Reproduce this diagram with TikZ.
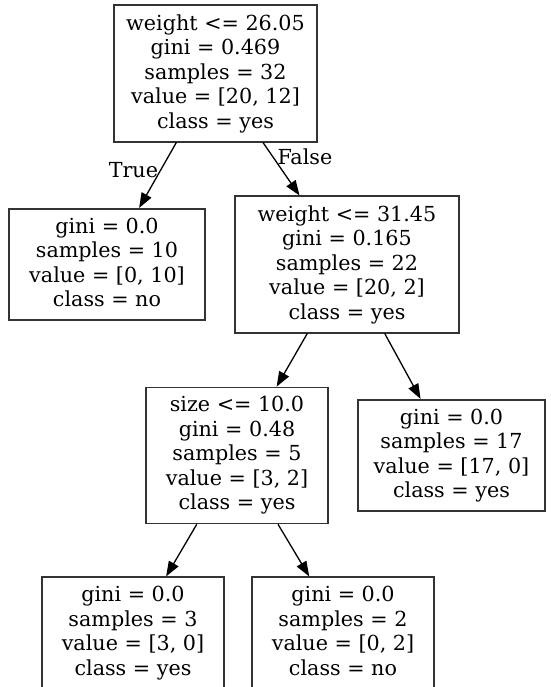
\documentclass[tikz,border=0pt]{standalone}
\usepackage{fontspec}
\setmainfont{DejaVu Serif}
\usetikzlibrary{arrows.meta, positioning}

\begin{document}
\begin{tikzpicture}[->, >={Triangle[length=15pt, width=11pt]}, line width=1.3pt,
x=1pt, y=-1pt, node distance=191pt,
box/.style={rectangle, draw=black!80, line width=1.7pt, align=center,
  inner xsep=4pt, inner ysep=9pt, font=\fontsize{20.7}{24.5}\selectfont},
lbl/.style={font=\fontsize{20.7}{24.5}\selectfont, inner sep=2pt}]
\useasboundingbox (0,0) rectangle (550,687);
\clip (0,0) rectangle (550,687);

\node [box, minimum width=203pt] (root) at (215.5,73.5) {weight <= 26.05\\gini = 0.469\\samples = 32\\value = [20, 12]\\class = yes};

\node [box, minimum width=196pt] (leafa) [below of=root, xshift=-108.5pt] {gini = 0.0\\samples = 10\\value = [0, 10]\\class = no\vphantom{y}};
\path (root) edge node [lbl, pos=0.42, left] {True} (leafa);
\node [box, minimum width=224pt] (weight) [below of=root, xshift=131.5pt] {weight <= 31.45\\gini = 0.165\\samples = 22\\value = [20, 2]\\class = yes};
\path (root) edge node [lbl, pos=0.27, right, xshift=2pt] {False} (weight);

\node [box, minimum width=182pt] (size) [below of=weight, xshift=-110pt] {size <= 10.0\\gini = 0.48\\samples = 5\\value = [3, 2]\\class = yes};
\path (weight) edge (size);
\node [box, minimum width=187pt] (leafb) [below of=weight, xshift=104.5pt] {gini = 0.0\\samples = 17\\value = [17, 0]\\class = yes};
\path (weight) edge (leafb);

\node [box, minimum width=182pt] (leafc) [below of=size, yshift=13.5pt, xshift=-104pt] {gini = 0.0\\samples = 3\\value = [3, 0]\\class = yes};
\path (size) edge (leafc);
\node [box, minimum width=182pt] (leafd) [below of=size, yshift=13.5pt, xshift=106pt] {gini = 0.0\\samples = 2\\value = [0, 2]\\class = no\vphantom{y}};
\path (size) edge (leafd);

\end{tikzpicture}
\end{document}
